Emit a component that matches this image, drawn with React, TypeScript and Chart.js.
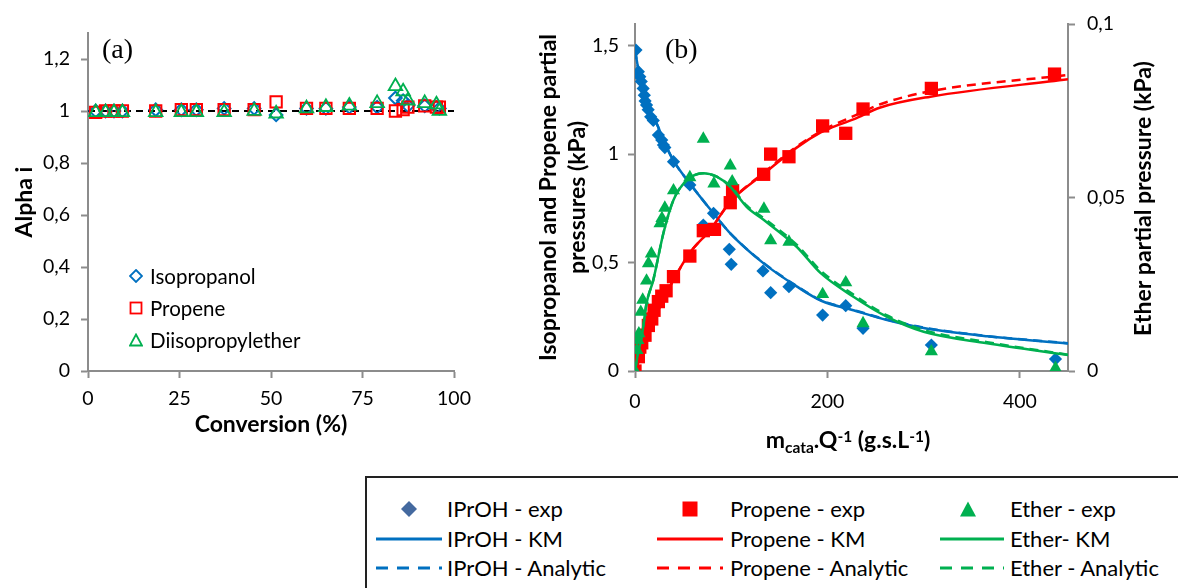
import React, { useEffect, useRef } from 'react';
import { Chart, registerables } from 'chart.js';

Chart.register(...registerables);

// ---------- Panel (a) data ----------
const conversion = [2.1, 4.8, 7.1, 9.4, 18.5, 25.5, 29.6, 37.2, 45.4, 51.4, 59.7, 65, 71.4, 79, 84, 86.1, 87.4, 92, 95.2, 96];
const alphaIsopropanol = [1.0, 1.0, 1.0, 1.0, 1.005, 1.005, 1.005, 1.01, 1.01, 0.985, 1.01, 1.01, 1.015, 1.015, 1.05, 1.04, 1.02, 1.02, 1.015, 1.01];
const alphaPropene = [0.995, 1.0, 1.0, 1.0, 1.0, 1.005, 1.005, 1.005, 1.005, 1.035, 1.01, 1.01, 1.01, 1.01, 1.0, 1.005, 1.015, 1.02, 1.015, 1.015];
const alphaEther = [0.995, 0.995, 0.995, 0.995, 0.995, 0.995, 0.995, 0.995, 1.0, 0.99, 1.01, 1.015, 1.02, 1.03, 1.095, 1.075, 1.04, 1.03, 1.025, 1.0];
const referenceX = [0, 100];
const referenceAlpha = [1, 1];

// ---------- Panel (b) data ----------
const iprohExpX = [1, 3.5, 5, 6.5, 8.5, 9.7, 10.5, 12, 13.7, 16.3, 19, 24.3, 27.8, 29.5, 31, 40, 57, 71, 81.6, 98, 100, 133, 141, 160, 195, 219, 237, 308, 437];
const iprohExpP = [1.48, 1.38, 1.357, 1.335, 1.303, 1.272, 1.245, 1.226, 1.205, 1.172, 1.155, 1.088, 1.065, 1.042, 1.03, 0.965, 0.858, 0.673, 0.727, 0.561, 0.492, 0.461, 0.361, 0.389, 0.258, 0.301, 0.197, 0.12, 0.055];

const propeneExpX = [0, 3.5, 5, 7, 10.4, 13.9, 17.4, 19.8, 24.3, 27.8, 32.3, 40, 57, 71, 82.6, 99, 101.4, 133.7, 141, 160, 195, 219, 237, 308, 436];
const propeneExpP = [0, 0.066, 0.11, 0.13, 0.165, 0.21, 0.24, 0.28, 0.32, 0.345, 0.37, 0.435, 0.53, 0.647, 0.653, 0.776, 0.831, 0.907, 1.0, 0.988, 1.13, 1.096, 1.208, 1.303, 1.369];

const etherExpX = [0, 2, 3, 4, 6, 8, 12, 14, 17, 26, 28, 31, 40, 57, 71, 82, 99, 101, 134, 141, 160, 195, 219, 237, 308, 437];
const etherExpP = [0, 0.006, 0.0089, 0.0108, 0.017, 0.0205, 0.026, 0.031, 0.0338, 0.0425, 0.044, 0.047, 0.052, 0.0558, 0.0669, 0.054, 0.0592, 0.0546, 0.0467, 0.0376, 0.0372, 0.0221, 0.0255, 0.0137, 0.0056, 0.0008];

const iprohKmX = [0, 5, 10, 15, 22.6, 30, 40, 57, 82, 99, 134, 168, 193, 227, 262, 300, 366, 450];
const iprohKmP = [1.48, 1.355, 1.27, 1.2, 1.14, 1.06, 0.97, 0.865, 0.725, 0.635, 0.495, 0.39, 0.325, 0.28, 0.235, 0.198, 0.16, 0.127];
const iprohAnX = [0, 5, 10, 15, 22.6, 30, 40, 57, 82, 99, 134, 168, 193, 227, 262, 300, 366, 450];
const iprohAnP = [1.48, 1.355, 1.27, 1.2, 1.14, 1.06, 0.97, 0.865, 0.725, 0.635, 0.497, 0.392, 0.327, 0.282, 0.237, 0.2, 0.161, 0.128];

const propeneKmX = [0, 7, 22.6, 40, 57, 78, 99, 134, 168, 193, 203, 227, 255, 307, 450];
const propeneKmP = [0, 0.082, 0.265, 0.42, 0.545, 0.65, 0.78, 0.91, 1.03, 1.1, 1.12, 1.16, 1.215, 1.265, 1.345];
const propeneAnX = [0, 7, 22.6, 40, 57, 78, 99, 134, 168, 193, 203, 227, 255, 307, 450];
const propeneAnP = [0, 0.082, 0.265, 0.42, 0.545, 0.65, 0.78, 0.915, 1.035, 1.105, 1.128, 1.175, 1.23, 1.29, 1.365];

const etherKmX = [0, 3, 7, 12, 19, 29.5, 40, 54, 71, 85, 99, 116, 134, 168, 193, 227, 262, 300, 366, 450];
const etherKmP = [0, 0.005, 0.0099, 0.0195, 0.0262, 0.0397, 0.0493, 0.055, 0.057, 0.056, 0.0531, 0.0473, 0.0435, 0.0358, 0.0282, 0.0214, 0.0156, 0.0113, 0.008, 0.0046];
const etherAnX = [0, 3, 7, 12, 19, 29.5, 40, 54, 71, 85, 99, 116, 134, 168, 193, 227, 262, 300, 366, 450];
const etherAnP = [0, 0.005, 0.0099, 0.0195, 0.0262, 0.0397, 0.0493, 0.055, 0.057, 0.056, 0.0533, 0.0477, 0.044, 0.0364, 0.0289, 0.022, 0.016, 0.0118, 0.0083, 0.0047];

const legendA = ['Isopropanol', 'Propene', 'Diisopropylether'];
const legendB = [
  ['IPrOH - exp', 'Propene - exp', 'Ether - exp'],
  ['IPrOH - KM', 'Propene - KM', 'Ether- KM'],
  ['IPrOH - Analytic', 'Propene - Analytic', 'Ether - Analytic'],
];
const rightTitleB = 'Ether partial pressure (kPa)';

const FONT = "Lato, 'Open Sans', sans-serif";
const AXIS = '#8c8c8c';
const BLUE = '#0070C0';
const RED = '#FF0000';
const GREEN = '#00B050';

const fmt = (v: number) => String(Math.round(v * 1000) / 1000).replace('.', ',');
const pts = (xs: number[], ys: number[]) => xs.map((x, i) => ({ x, y: ys[i] }));

const tickFont = { family: FONT, size: 19.5 };
const titleFont = { family: FONT, size: 23, weight: 'bold' as const };

const titlesB = {
  id: 'titlesB',
  afterDraw(chart: any) {
    const ctx = chart.ctx as CanvasRenderingContext2D;
    // x-axis title with subscript / superscripts
    const parts: [string, 'n' | 'sub' | 'sup'][] = [
      ['m', 'n'], ['cata', 'sub'], ['.Q', 'n'], ['-1', 'sup'], [' (g.s.L', 'n'], ['-1', 'sup'], [')', 'n'],
    ];
    const big = `bold 23px ${FONT}`;
    const small = `bold 15.5px ${FONT}`;
    ctx.save();
    ctx.fillStyle = '#000';
    ctx.textBaseline = 'alphabetic';
    ctx.textAlign = 'left';
    let total = 0;
    for (const [t, k] of parts) {
      ctx.font = k === 'n' ? big : small;
      total += ctx.measureText(t).width;
    }
    let x = 328 - total / 2;
    const base = 448;
    for (const [t, k] of parts) {
      ctx.font = k === 'n' ? big : small;
      const y = k === 'sub' ? base + 5 : k === 'sup' ? base - 6 : base;
      ctx.fillText(t, x, y);
      x += ctx.measureText(t).width;
    }
    ctx.restore();

    // right axis title, reading bottom to top
    const y2 = chart.scales.y2;
    ctx.save();
    ctx.font = big;
    ctx.fillStyle = '#000';
    ctx.textAlign = 'center';
    ctx.textBaseline = 'middle';
    ctx.translate(624, (y2.top + y2.bottom) / 2 + 1);
    ctx.rotate(-Math.PI / 2);
    ctx.fillText(rightTitleB, 0, 0);
    ctx.restore();
  },
};

function Marker({ kind, color, filled, size }: { kind: string; color: string; filled: boolean; size: number }) {
  const s = size;
  const fill = filled ? color : 'none';
  const sw = filled ? 0 : 1.8;
  let shape: any = null;
  if (kind === 'diamond') shape = <polygon points={`${s / 2},1 ${s - 1},${s / 2} ${s / 2},${s - 1} 1,${s / 2}`} fill={fill} stroke={color} strokeWidth={sw} />;
  if (kind === 'square') shape = <rect x={1.5} y={1.5} width={s - 3} height={s - 3} fill={fill} stroke={color} strokeWidth={sw} />;
  if (kind === 'triangle') shape = <polygon points={`${s / 2},1.5 ${s - 1},${s - 1.5} 1,${s - 1.5}`} fill={fill} stroke={color} strokeWidth={sw} />;
  return <svg width={s} height={s} style={{ display: 'block' }}>{shape}</svg>;
}

export default function App() {
  const refA = useRef<HTMLCanvasElement>(null);
  const refB = useRef<HTMLCanvasElement>(null);

  useEffect(() => {
    const common = {
      responsive: false,
      animation: false as const,
      devicePixelRatio: 1,
      plugins: { legend: { display: false }, tooltip: { enabled: false } },
    };
    const axisBase = (extra: any) => ({
      type: 'linear',
      grid: { drawOnChartArea: false, drawTicks: true, tickLength: 7, tickColor: AXIS, tickWidth: 2, color: AXIS },
      border: { color: AXIS, width: 2 },
      ...extra,
    });

    const chartA = new Chart(refA.current!, {
      type: 'scatter',
      data: {
        datasets: [
          { label: 'Isopropanol', data: pts(conversion, alphaIsopropanol), pointStyle: 'rectRot', pointRadius: 6.3, pointBorderWidth: 2, pointBorderColor: BLUE, pointBackgroundColor: 'rgba(0,0,0,0)', order: 3 },
          { label: 'Propene', data: pts(conversion, alphaPropene), pointStyle: 'rect', pointRadius: 8, pointBorderWidth: 2, pointBorderColor: RED, pointBackgroundColor: 'rgba(0,0,0,0)', order: 2 },
          { label: 'Diisopropylether', data: pts(conversion, alphaEther), pointStyle: 'triangle', pointRadius: 7.8, pointBorderWidth: 1.8, pointBorderColor: GREEN, pointBackgroundColor: 'rgba(0,0,0,0)', order: 1 },
          { type: 'line', label: 'Alpha = 1', data: pts(referenceX, referenceAlpha), borderColor: '#000', borderWidth: 2, borderDash: [7, 5], pointRadius: 0, order: 4 } as any,
        ],
      },
      options: {
        ...common,
        layout: { padding: { top: 33, right: 26, left: 0, bottom: 0 }, autoPadding: false },
        scales: {
          x: axisBase({
            position: 'bottom', min: 0, max: 100,
            ticks: { stepSize: 25, includeBounds: false, font: tickFont, color: '#000', padding: 9, maxRotation: 0, autoSkip: false },
            title: { display: true, text: 'Conversion (%)', font: titleFont, color: '#000', padding: { top: 0, bottom: 12 } },
            afterFit: (s: any) => { s.height = 79; },
          }),
          y: axisBase({
            position: 'left', min: 0, max: 1.3,
            ticks: { stepSize: 0.2, includeBounds: false, font: tickFont, color: '#000', padding: 11, callback: (v: any) => fmt(Number(v)) },
            title: { display: true, text: 'Alpha i', font: titleFont, color: '#000', padding: { top: 11, bottom: 0 } },
            afterFit: (s: any) => { s.width = 88; },
          }),
        },
      } as any,
    });

    const line = (label: string, xs: number[], ys: number[], color: string, dashed: boolean, axis: string, order: number) => ({
      type: 'line', label, data: pts(xs, ys), borderColor: color, borderWidth: 2.5, borderDash: dashed ? [9, 6] : [],
      pointRadius: 0, fill: false, cubicInterpolationMode: 'monotone', yAxisID: axis, order,
    });

    const chartB = new Chart(refB.current!, {
      type: 'scatter',
      data: {
        datasets: [
          { label: 'IPrOH - exp', data: pts(iprohExpX, iprohExpP), pointStyle: 'rectRot', pointRadius: 6.6, pointBorderWidth: 0, pointBackgroundColor: BLUE, pointBorderColor: BLUE, yAxisID: 'y', order: 12 },
          { label: 'Propene - exp', data: pts(propeneExpX, propeneExpP), pointStyle: 'rect', pointRadius: 9.4, pointBorderWidth: 0, pointBackgroundColor: RED, pointBorderColor: RED, yAxisID: 'y', order: 11 },
          line('IPrOH - KM', iprohKmX, iprohKmP, BLUE, false, 'y', 10),
          line('Propene - KM', propeneKmX, propeneKmP, RED, false, 'y', 9),
          line('IPrOH - Analytic', iprohAnX, iprohAnP, BLUE, true, 'y', 8),
          line('Propene - Analytic', propeneAnX, propeneAnP, RED, true, 'y', 7),
          { label: 'Ether - exp', data: pts(etherExpX, etherExpP), pointStyle: 'triangle', pointRadius: 7.6, pointBorderWidth: 0, pointBackgroundColor: GREEN, pointBorderColor: GREEN, yAxisID: 'y2', order: 6 },
          line('Ether- KM', etherKmX, etherKmP, GREEN, false, 'y2', 5),
          line('Ether - Analytic', etherAnX, etherAnP, GREEN, true, 'y2', 4),
        ] as any,
      },
      options: {
        ...common,
        layout: { padding: { top: 24, right: 0, left: 0, bottom: 0 }, autoPadding: false },
        scales: {
          x: axisBase({
            position: 'bottom', min: 0, max: 450,
            ticks: { stepSize: 200, includeBounds: false, font: tickFont, color: '#000', padding: 12, maxRotation: 0, autoSkip: false },
            afterFit: (s: any) => { s.height = 89; },
          }),
          y: axisBase({
            position: 'left', min: 0, max: 1.6,
            ticks: { stepSize: 0.5, includeBounds: false, font: tickFont, color: '#000', padding: 9, callback: (v: any) => fmt(Number(v)) },
            title: { display: true, text: ['Isopropanol and Propene partial', 'pressures (kPa)'], font: { ...titleFont, lineHeight: 1.22 }, color: '#000', padding: { top: 15, bottom: 0 } },
            afterFit: (s: any) => { s.width = 115; },
          }),
          y2: axisBase({
            position: 'right', min: 0, max: 0.1,
            ticks: { stepSize: 0.05, includeBounds: false, font: tickFont, color: '#000', padding: 12, callback: (v: any) => fmt(Number(v)) },
            title: { display: false, text: rightTitleB },
            afterFit: (s: any) => { s.width = 110; },
          }),
        },
      } as any,
      plugins: [titlesB],
    });

    return () => {
      chartA.destroy();
      chartB.destroy();
    };
  }, []);

  const legendAMarkers = [
    { kind: 'diamond', color: BLUE },
    { kind: 'square', color: RED },
    { kind: 'triangle', color: GREEN },
  ];
  const legendARows = [276, 308, 340];

  const colMarkerX = [409, 690, 968];
  const colLineX = [[376, 442], [657, 723], [940, 1004]];
  const colTextX = [447, 730, 1010];
  const rowY = [509, 539, 568];
  const colColor = [BLUE, RED, GREEN];
  const expKinds = ['diamond', 'square', 'triangle'];
  const expColors = ['#44699F', RED, GREEN];

  const textStyle: React.CSSProperties = { position: 'absolute', fontFamily: FONT, color: '#000', whiteSpace: 'nowrap', lineHeight: '30px', height: 30 };

  return (
    <div style={{ position: 'fixed', left: 0, top: 0, width: 1178, height: 588, background: '#fff', overflow: 'hidden' }}>
      <canvas ref={refA} width={480} height={450} style={{ position: 'absolute', left: 0, top: 0, width: 480, height: 450 }} />
      <canvas ref={refB} width={658} height={460} style={{ position: 'absolute', left: 520, top: 0, width: 658, height: 460 }} />

      <div style={{ position: 'absolute', left: 102, top: 31, fontFamily: "'Liberation Serif', 'Times New Roman', serif", fontSize: 28, lineHeight: '36px' }}>(a)</div>
      <div style={{ position: 'absolute', left: 665, top: 31, fontFamily: "'Liberation Serif', 'Times New Roman', serif", fontSize: 28, lineHeight: '36px' }}>(b)</div>

      {legendA.map((name, i) => (
        <React.Fragment key={name}>
          <div style={{ position: 'absolute', left: 129, top: legendARows[i] - 7 }}>
            <Marker kind={legendAMarkers[i].kind} color={legendAMarkers[i].color} filled={false} size={14} />
          </div>
          <div style={{ ...textStyle, left: 150, top: legendARows[i] - 15, fontSize: 20.5 }}>{name}</div>
        </React.Fragment>
      ))}

      <div style={{ position: 'absolute', left: 365, top: 476, width: 830, height: 130, border: '2px solid #222', boxSizing: 'border-box' }} />
      {legendB.map((row, r) =>
        row.map((label, c) => (
          <React.Fragment key={label}>
            {r === 0 ? (
              <div style={{ position: 'absolute', left: colMarkerX[c] - 9, top: rowY[r] - 9 }}>
                <Marker kind={expKinds[c]} color={expColors[c]} filled size={18} />
              </div>
            ) : (
              <svg style={{ position: 'absolute', left: colLineX[c][0], top: rowY[r] - 3 }} width={colLineX[c][1] - colLineX[c][0]} height={6}>
                <line x1={0} y1={3} x2={colLineX[c][1] - colLineX[c][0]} y2={3} stroke={colColor[c]} strokeWidth={3} strokeDasharray={r === 2 ? '12 9' : undefined} />
              </svg>
            )}
            <div style={{ ...textStyle, left: colTextX[c], top: rowY[r] - 15, fontSize: 22 }}>{label}</div>
          </React.Fragment>
        ))
      )}
    </div>
  );
}
